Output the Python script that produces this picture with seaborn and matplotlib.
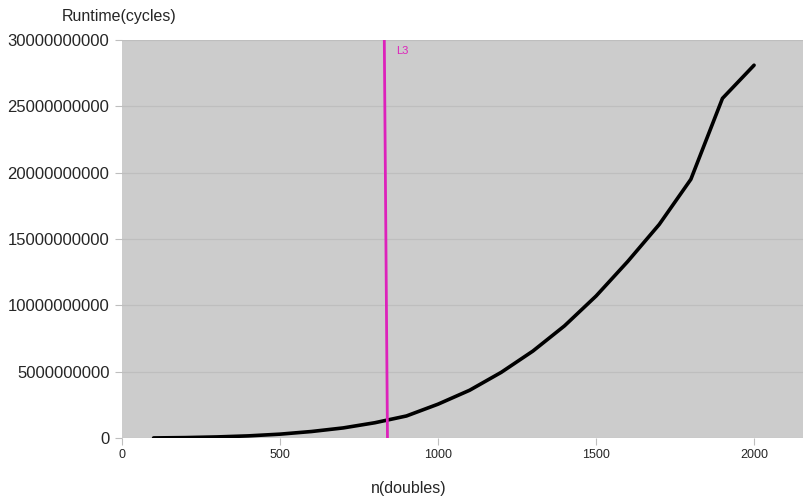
import numpy as np
import pandas as pd
import matplotlib as mpl
from matplotlib import pyplot as plt
import seaborn as sns

n_doubles = [100, 200, 300, 400, 500, 600, 700, 800, 900, 1000,
             1100, 1200, 1300, 1400, 1500, 1600, 1700, 1800, 1900, 2000]
cycles = [5e6, 3e7, 8e7, 1.6e8, 2.9e8, 4.9e8, 7.6e8, 1.15e9, 1.66e9, 2.55e9,
          3.6e9, 4.95e9, 6.55e9, 8.45e9, 1.07e10, 1.33e10, 1.61e10, 1.95e10, 2.56e10, 2.81e10]

# L3 cache marker
l3_x = [840, 830]
l3_y = [0, 3e10]

dframe = pd.DataFrame({'n': n_doubles, 'cycles': cycles})
l3frame = pd.DataFrame({'n': l3_x, 'cycles': l3_y})

sns.set_style("ticks")
plt.rcParams['font.family'] = ['Liberation Sans', 'DejaVu Sans']

fig = plt.figure(figsize=(8.04, 4.98), dpi=100)
ax = fig.add_axes([122/804, 1-438/498, (804-122)/804, (438-40)/498])
ax.set_facecolor('#cccccc')

sns.lineplot(ax=ax, x='n', y='cycles', data=dframe, color='black', lw=2.6, sort=False)
sns.lineplot(ax=ax, x='n', y='cycles', data=l3frame, color='#dd22bb', lw=2.0, sort=False)
ax.text(866, 2.92e10, 'L3', color='#dd22bb', fontsize=8, va='center')

ax.set_xlim(0, 2158)
ax.set_ylim(0, 3e10)
ax.set_xticks([0, 500, 1000, 1500, 2000])
ax.set_yticks(np.arange(0, 3.0001e10, 5e9))
ax.yaxis.set_major_formatter(mpl.ticker.FuncFormatter(lambda v, p: '%d' % v))
ax.grid(axis='y', color='#bebebe', lw=0.9)
ax.set_axisbelow(True)
for s in ax.spines.values():
    s.set_visible(False)
ax.tick_params(axis='y', labelsize=12, length=5, color='#bebebe', pad=4)
ax.tick_params(axis='x', labelsize=9, length=5, color='#bebebe', pad=3)
ax.set_xlabel('')
ax.set_ylabel('')

fig.text(119/804, 1-17/498, 'Runtime(cycles)', ha='center', va='center', fontsize=11.5)
fig.text(409/804, 1-488/498, 'n(doubles)', ha='center', va='center', fontsize=11.5)

fig.savefig('out.png', dpi=100)
